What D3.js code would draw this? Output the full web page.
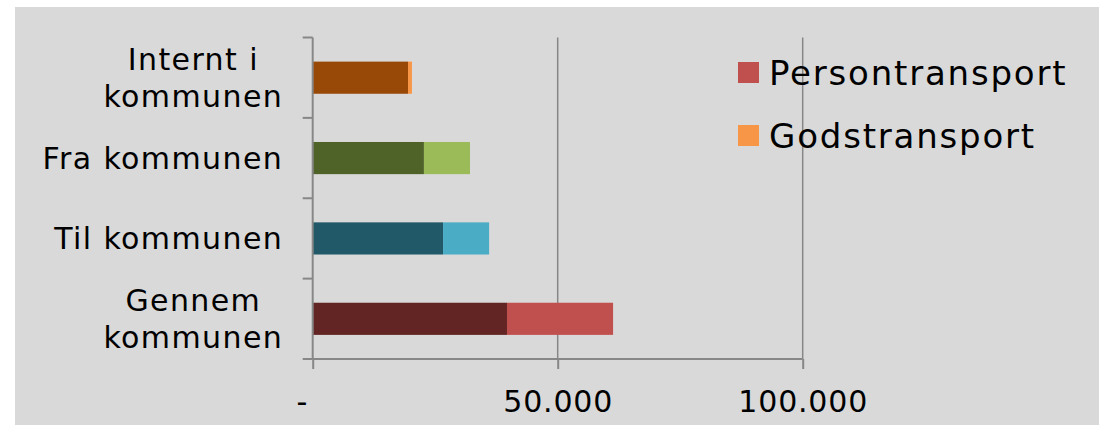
<!DOCTYPE html>
<html>
<head>
<meta charset="utf-8">
<script src="https://cdn.jsdelivr.net/npm/d3@7"></script>
<style>
  body { margin: 0; background: #fff; }
  text { font-family: "DejaVu Sans", Verdana, sans-serif; fill: #000; }
</style>
</head>
<body>
<svg id="chart" width="1099" height="425"></svg>
<script>
// categories top to bottom, each split into lines
let categories = [["Internt i", "kommunen"], ["Fra kommunen"], ["Til kommunen"], ["Gennem", "kommunen"]];
let seriesNames = ["Persontransport", "Godstransport"];
let persontransport = [19450, 22700, 26600, 39650];
let godstransport = [800, 9400, 9400, 21650];
let xTicks = [0, 50000, 100000];
let xTickLabels = ["-", "50.000", "100.000"];

// per-point colours (dark segment, light segment)
let darkColors = ["#984807", "#4f6228", "#215968", "#632523"];
let lightColors = ["#f79646", "#9bbb59", "#4bacc6", "#c0504d"];
let legendColors = ["#c0504d", "#f79646"];

let svg = d3.select("#chart");
let margin = { left: 312.7, top: 37.5, right: 296.3, bottom: 66 };
let width = 1099 - margin.left - margin.right;
let height = 425 - margin.top - margin.bottom;

svg.append("rect")
  .attr("x", 15).attr("y", 7)
  .attr("width", 1099 - 15).attr("height", 425 - 7)
  .attr("fill", "#d9d9d9");

let g = svg.append("g").attr("transform", `translate(${margin.left},${margin.top})`);

let xScale = d3.scaleLinear().domain([0, 100000]).range([0, width]);
let yScale = d3.scaleBand().domain(d3.range(categories.length)).range([0, height]).paddingInner(0.6).paddingOuter(0.3);

// gridlines
g.selectAll(".grid")
  .data(xTicks.slice(1))
  .enter().append("line")
  .attr("x1", d => xScale(d)).attr("x2", d => xScale(d))
  .attr("y1", 0).attr("y2", height)
  .attr("stroke", "#878787").attr("stroke-width", 1.5);

// bars
let rows = categories.map((c, i) => ({ i: i, a: persontransport[i], b: godstransport[i] }));

g.selectAll(".barA")
  .data(rows)
  .enter().append("rect")
  .attr("x", xScale(0))
  .attr("y", d => yScale(d.i))
  .attr("width", d => xScale(d.a) - xScale(0))
  .attr("height", yScale.bandwidth())
  .attr("fill", d => darkColors[d.i]);

g.selectAll(".barB")
  .data(rows)
  .enter().append("rect")
  .attr("x", d => xScale(d.a))
  .attr("y", d => yScale(d.i))
  .attr("width", d => xScale(d.a + d.b) - xScale(d.a))
  .attr("height", yScale.bandwidth())
  .attr("fill", d => lightColors[d.i]);

// x axis
let xAxis = d3.axisBottom(xScale)
  .tickValues(xTicks)
  .tickSize(10)
  .tickFormat((d, i) => xTickLabels[i]);

let xg = g.append("g").attr("transform", `translate(0,${height})`).call(xAxis);
xg.select(".domain").attr("stroke", "#878787").attr("stroke-width", 2).attr("d", `M0,0H${width}`);
xg.selectAll(".tick line").attr("stroke", "#878787").attr("stroke-width", 2);
xg.selectAll(".tick text")
  .attr("y", 53)
  .attr("dy", 0)
  .style("font-size", "30px")
  .style("letter-spacing", "0.8px")
  .attr("dx", (d, i) => i === 0 ? -11 : 0);

// y axis line and category ticks
let bandStep = height / categories.length;
g.append("line")
  .attr("x1", 0).attr("x2", 0).attr("y1", 0).attr("y2", height)
  .attr("stroke", "#878787").attr("stroke-width", 2);
g.selectAll(".ytick")
  .data(d3.range(categories.length + 1))
  .enter().append("line")
  .attr("x1", -10).attr("x2", 0)
  .attr("y1", d => d * bandStep).attr("y2", d => d * bandStep)
  .attr("stroke", "#878787").attr("stroke-width", 2);

// category labels
let labelRight = -29.5;
let lineHeight = 37;
categories.forEach((lines, i) => {
  let cy = yScale(i) + yScale.bandwidth() / 2;
  let t = g.append("text")
    .style("font-size", "30px")
    .style("letter-spacing", "1.4px");
  lines.forEach((ln, j) => {
    t.append("tspan")
      .attr("y", cy + (j - (lines.length - 1) / 2) * lineHeight)
      .attr("dy", "0.35em")
      .text(ln);
  });
  if (lines.length === 1) {
    t.attr("text-anchor", "end").selectAll("tspan").attr("x", labelRight);
  } else {
    let maxW = d3.max(t.selectAll("tspan").nodes(), n => n.getComputedTextLength());
    t.attr("text-anchor", "middle").selectAll("tspan").attr("x", labelRight - maxW / 2);
  }
});

// legend
let legend = svg.append("g").attr("transform", "translate(738,62)");
let items = legend.selectAll(".item")
  .data(seriesNames)
  .enter().append("g")
  .attr("transform", (d, i) => `translate(0,${i * 63})`);
items.append("rect")
  .attr("width", 21).attr("height", 21)
  .attr("fill", (d, i) => legendColors[i]);
items.append("text")
  .attr("x", 31).attr("y", 10.5).attr("dy", "0.37em")
  .style("font-size", "34px")
  .style("letter-spacing", "1.8px")
  .text(d => d);
</script>
</body>
</html>
